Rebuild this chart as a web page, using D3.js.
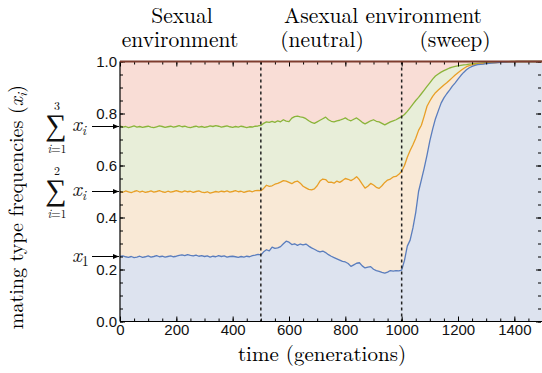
<!DOCTYPE html>
<html>
<head>
<meta charset="utf-8">
<script src="https://cdn.jsdelivr.net/npm/d3@7/dist/d3.min.js"></script>
<style>
  body { margin: 0; background: #fff; }
  svg { display: block; }
</style>
</head>
<body>
<script>
// sampled every 10 generations, 0..1500
var GEN_STEP = 10

// x1
var x1 = [
  0.250,0.252,0.249,0.247,0.250,0.246,0.248,0.251,0.247,0.249,
  0.252,0.248,0.250,0.253,0.249,0.251,0.248,0.250,0.252,0.249,
  0.251,0.254,0.256,0.253,0.257,0.254,0.252,0.255,0.251,0.253,
  0.250,0.252,0.248,0.251,0.249,0.253,0.250,0.252,0.248,0.250,
  0.251,0.249,0.247,0.250,0.248,0.251,0.249,0.253,0.255,0.258,
  0.256,0.268,0.276,0.272,0.286,0.281,0.283,0.288,0.299,0.309,
  0.305,0.296,0.299,0.293,0.298,0.295,0.298,0.290,0.283,0.278,
  0.272,0.268,0.271,0.265,0.257,0.251,0.246,0.241,0.236,0.231,
  0.229,0.223,0.212,0.218,0.224,0.226,0.214,0.206,0.209,0.211,
  0.201,0.196,0.193,0.189,0.186,0.190,0.196,0.194,0.196,0.195,
  0.198,0.235,0.290,0.313,0.360,0.420,0.500,0.545,0.590,0.640,
  0.695,0.740,0.780,0.810,0.840,0.860,0.876,0.890,0.905,0.918,
  0.932,0.946,0.958,0.968,0.976,0.981,0.985,0.988,0.989,0.990,
  0.992,0.993,0.994,0.995,0.996,0.997,0.998,0.998,0.999,0.999,
  0.999,1,1,1,1,1,1,1,1,1,1
]

// x1 + x2
var x12 = [
  0.500,0.497,0.502,0.499,0.496,0.500,0.503,0.498,0.501,0.497,
  0.499,0.502,0.498,0.500,0.503,0.499,0.497,0.501,0.498,0.500,
  0.503,0.500,0.498,0.502,0.499,0.501,0.497,0.500,0.502,0.498,
  0.496,0.499,0.494,0.497,0.500,0.498,0.501,0.499,0.502,0.498,
  0.500,0.503,0.499,0.501,0.497,0.500,0.502,0.499,0.503,0.504,
  0.503,0.512,0.524,0.520,0.522,0.528,0.531,0.536,0.542,0.540,
  0.535,0.530,0.537,0.540,0.532,0.520,0.514,0.508,0.506,0.510,
  0.522,0.540,0.548,0.546,0.535,0.536,0.532,0.540,0.535,0.542,
  0.550,0.547,0.542,0.548,0.557,0.545,0.528,0.513,0.520,0.531,
  0.525,0.516,0.512,0.522,0.535,0.544,0.548,0.556,0.558,0.566,
  0.578,0.600,0.632,0.658,0.680,0.705,0.735,0.755,0.790,0.828,
  0.848,0.866,0.880,0.890,0.900,0.910,0.918,0.928,0.938,0.948,
  0.957,0.965,0.973,0.980,0.984,0.987,0.989,0.990,0.991,0.992,
  0.993,0.994,0.995,0.995,0.996,0.997,0.998,0.998,0.999,0.999,
  0.999,1,1,1,1,1,1,1,1,1,1
]

// x1 + x2 + x3
var x123 = [
  0.752,0.748,0.750,0.746,0.749,0.752,0.748,0.750,0.747,0.749,
  0.751,0.748,0.746,0.749,0.752,0.750,0.747,0.749,0.751,0.748,
  0.750,0.753,0.749,0.751,0.748,0.746,0.749,0.751,0.748,0.750,
  0.747,0.749,0.752,0.750,0.753,0.751,0.748,0.750,0.752,0.749,
  0.747,0.750,0.748,0.751,0.749,0.746,0.749,0.748,0.751,0.752,
  0.754,0.762,0.768,0.766,0.770,0.766,0.772,0.768,0.776,0.771,
  0.769,0.782,0.788,0.790,0.787,0.785,0.780,0.772,0.766,0.762,
  0.768,0.774,0.780,0.786,0.776,0.770,0.768,0.772,0.774,0.778,
  0.783,0.776,0.772,0.778,0.783,0.775,0.766,0.760,0.766,0.772,
  0.776,0.770,0.768,0.762,0.756,0.762,0.768,0.772,0.776,0.782,
  0.788,0.796,0.808,0.822,0.836,0.850,0.862,0.876,0.890,0.904,
  0.918,0.932,0.944,0.952,0.959,0.965,0.970,0.975,0.978,0.981,
  0.983,0.985,0.987,0.988,0.990,0.991,0.992,0.993,0.994,0.995,
  0.996,0.996,0.997,0.997,0.998,0.998,0.999,0.999,0.999,1,
  1,1,1,1,1,1,1,1,1,1,1
]

var xTickLabels = [0, 200, 400, 600, 800, 1000, 1200, 1400]
var yTickLabels = [0, 0.2, 0.4, 0.6, 0.8, 1.0]
var phaseBreaks = [500, 1000]

var BLUE = '#5a7dbd', ORANGE = '#e89f26', GREEN = '#8bb43b', TOPLINE = '#7e3c2e'
var BLUE_FILL = '#dde3ef', ORANGE_FILL = '#f9e9d6', GREEN_FILL = '#e8eed9', RED_FILL = '#f9ddd6'
var SERIF = "'Latin Modern Roman'"
var SANS = "'Liberation Sans'"

var W = 542, H = 373
var svg = d3.select('body').append('svg').attr('width', W).attr('height', H)

var x = d3.scaleLinear().domain([0, 1500]).range([120, 542.5])
var y = d3.scaleLinear().domain([0, 1]).range([321.5, 61.5])

function rows(arr){
  return arr.map(function(v, i){ return { t: i * GEN_STEP, v: v } })
}

// small helper so every text gets its font through style()
function txt(parent, family, size){
  return parent.append('text').style('font-family', family).style('font-size', size + 'px')
}

var area = d3.area().x(function(d){ return x(d.t) }).y0(y(0)).y1(function(d){ return y(d.v) })
var line = d3.line().x(function(d){ return x(d.t) }).y(function(d){ return y(d.v) })

var plot = svg.append('g')

// red background = rest of the population up to 1
plot.append('rect')
  .attr('x', x(0)).attr('y', y(1))
  .attr('width', x(1500) - x(0)).attr('height', y(0) - y(1))
  .attr('fill', RED_FILL)

var layers = [
  { data: x123, fill: GREEN_FILL, stroke: GREEN },
  { data: x12, fill: ORANGE_FILL, stroke: ORANGE },
  { data: x1, fill: BLUE_FILL, stroke: BLUE }
]

layers.forEach(function(l){
  plot.append('path').attr('d', area(rows(l.data))).attr('fill', l.fill)
})
layers.forEach(function(l){
  plot.append('path').attr('d', line(rows(l.data)))
    .attr('fill', 'none').attr('stroke', l.stroke)
    .attr('stroke-width', 1.3).attr('stroke-linejoin', 'round')
})

// phase boundaries
plot.selectAll('line.phase')
  .data(phaseBreaks)
  .enter()
  .append('line')
  .attr('class', 'phase')
  .attr('x1', function(d){ return x(d) }).attr('x2', function(d){ return x(d) })
  .attr('y1', y(1)).attr('y2', y(0))
  .attr('stroke', '#222').attr('stroke-width', 1.5).attr('stroke-dasharray', '3,3')

// axes, ticks pointing inward
var minorX = d3.range(0, 1501, 50)
var minorY = d3.range(0, 1.0001, 0.05)

function styleAxis(g){
  g.selectAll('line').attr('stroke', '#000')
  g.selectAll('.domain').remove()
  g.selectAll('text').style('font-family', SANS).style('font-size', '15px').attr('fill', '#111')
}

svg.append('g').attr('transform', 'translate(0,' + y(0) + ')')
  .call(d3.axisBottom(x).tickValues(minorX).tickSize(-3).tickFormat(''))
  .call(styleAxis)
svg.append('g').attr('transform', 'translate(0,' + y(0) + ')')
  .call(d3.axisBottom(x).tickValues(xTickLabels).tickSize(-5).tickPadding(3).tickFormat(d3.format('d')))
  .call(styleAxis)

svg.append('g').attr('transform', 'translate(0,' + y(1) + ')')
  .call(d3.axisTop(x).tickValues(minorX).tickSize(-3).tickFormat(''))
  .call(styleAxis)
svg.append('g').attr('transform', 'translate(0,' + y(1) + ')')
  .call(d3.axisTop(x).tickValues(xTickLabels).tickSize(-5).tickFormat(''))
  .call(styleAxis)

svg.append('g').attr('transform', 'translate(' + x(0) + ',0)')
  .call(d3.axisLeft(y).tickValues(minorY).tickSize(-3).tickFormat(''))
  .call(styleAxis)
svg.append('g').attr('transform', 'translate(' + x(0) + ',0)')
  .call(d3.axisLeft(y).tickValues(yTickLabels).tickSize(-5).tickPadding(3).tickFormat(d3.format('.1f')))
  .call(styleAxis)

svg.append('g').attr('transform', 'translate(' + (W - 1) + ',0)')
  .call(d3.axisRight(y).tickValues(minorY).tickSize(-3).tickFormat(''))
  .call(styleAxis)
svg.append('g').attr('transform', 'translate(' + (W - 1) + ',0)')
  .call(d3.axisRight(y).tickValues(yTickLabels).tickSize(-5).tickFormat(''))
  .call(styleAxis)

// frame
svg.append('line').attr('x1', x(0)).attr('x2', W).attr('y1', y(0)).attr('y2', y(0))
  .attr('stroke', '#000').attr('stroke-width', 1.2)
svg.append('line').attr('x1', x(0)).attr('x2', x(0)).attr('y1', y(1)).attr('y2', y(0))
  .attr('stroke', '#000').attr('stroke-width', 1.2)
svg.append('line').attr('x1', x(0)).attr('x2', W).attr('y1', y(1)).attr('y2', y(1))
  .attr('stroke', TOPLINE).attr('stroke-width', 2)

// axis titles
txt(svg, SERIF, 21).attr('x', 322).attr('y', 361)
  .attr('text-anchor', 'middle')
  .text('time (generations)')

var ylab = txt(svg, SERIF, 20)
  .attr('transform', 'translate(23,207) rotate(-90)')
  .attr('text-anchor', 'middle')
ylab.append('tspan').text('mating type frequencies (')
ylab.append('tspan').style('font-style', 'italic').text('x')
ylab.append('tspan').style('font-style', 'italic').style('font-size', '14px').attr('dy', 4).text('i')
ylab.append('tspan').attr('dy', -4).text(')')

// phase titles
var titles = [
  { text: 'Sexual', x: 182, y: 23 },
  { text: 'environment', x: 180, y: 47 },
  { text: 'Asexual environment', x: 383, y: 23 },
  { text: '(neutral)', x: 322, y: 47 },
  { text: '(sweep)', x: 455, y: 47 }
]
titles.forEach(function(d){
  txt(svg, SERIF, 21.5).attr('x', d.x).attr('y', d.y)
    .attr('text-anchor', 'middle').text(d.text)
})

// arrow annotations on the left
svg.append('defs').append('marker')
  .attr('id', 'arr').attr('viewBox', '0 0 10 10').attr('refX', 10).attr('refY', 5)
  .attr('markerWidth', 7).attr('markerHeight', 6).attr('markerUnits', 'userSpaceOnUse')
  .attr('orient', 'auto')
  .append('path').attr('d', 'M0,1 L10,5 L0,9 Z').attr('fill', '#000')

var annot = [
  { level: 0.25, upper: null },
  { level: 0.5, upper: '2' },
  { level: 0.75, upper: '3' }
]

// each label is one text element; the sum sign and its limits are tspans
annot.forEach(function(a){
  var yy = y(a.level)
  svg.append('line').attr('x1', 92).attr('x2', 119).attr('y1', yy).attr('y2', yy)
    .attr('stroke', '#000').attr('stroke-width', 1).attr('marker-end', 'url(#arr)')
  var t = txt(svg, SERIF, 21).attr('fill', '#111')
  if(a.upper){
    t.append('tspan').attr('x', 56).attr('y', yy + 8).style('text-anchor', 'middle')
      .style('font-size', '30px').text('\u2211')
    t.append('tspan').attr('x', 57).attr('y', yy - 17).style('text-anchor', 'middle')
      .style('font-size', '12px').text(a.upper)
    t.append('tspan').attr('x', 57).attr('y', yy + 26).style('text-anchor', 'middle')
      .style('font-size', '12px').style('font-style', 'italic').text('i')
    t.append('tspan').style('font-size', '12px').text('=1')
  }
  t.append('tspan').attr('x', 72).attr('y', yy + (a.upper ? 4 : 5)).style('text-anchor', 'start')
    .style('font-style', 'italic').text('x')
  t.append('tspan').style('font-size', '14px').attr('dy', 4)
    .style('font-style', a.upper ? 'italic' : 'normal').text(a.upper ? 'i' : '1')
})
</script>
</body>
</html>
